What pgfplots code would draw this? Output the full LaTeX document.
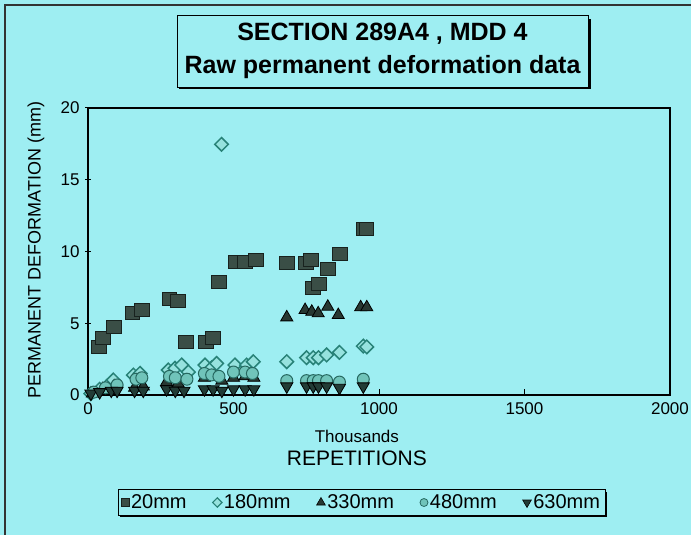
\documentclass[border=0pt]{standalone}
\usepackage{pgfplots}
\pgfplotsset{compat=1.18}
\usepackage{fontspec}
\setmainfont{Liberation Sans}
\usetikzlibrary{shadows}
\definecolor{bg}{RGB}{158,238,242}
\definecolor{sqfill}{RGB}{58,78,70}
\definecolor{sqdraw}{RGB}{24,34,30}
\definecolor{dmdraw}{RGB}{40,130,120}
\definecolor{dmfill}{RGB}{150,226,222}
\definecolor{trfill}{RGB}{40,56,50}
\definecolor{cifill}{RGB}{112,196,186}
\definecolor{cidraw}{RGB}{38,104,96}
\definecolor{itfill}{RGB}{34,60,54}
\begin{document}
\begin{tikzpicture}[x=1pt,y=1pt]
\fill[bg] (0,0) rectangle (691,535);
\useasboundingbox (0,0) rectangle (691,535);
\draw[line width=1.2pt,black!80] (5,0) -- (5,530) -- (691,530);
% title box
\fill[black] (179,446) rectangle (591,516);
\node[draw=black, line width=0.8pt, fill=bg, minimum width=411pt, minimum height=72pt, inner sep=0pt, align=center, font=\fontsize{25}{33}\selectfont\bfseries] at (382.5,484) {SECTION 289A4 , MDD 4\\Raw permanent deformation data};
\begin{axis}[
  at={(88pt,140pt)}, anchor=south west,
  width=582pt, height=287pt, scale only axis,
  xmin=0, xmax=2000, ymin=0, ymax=20,
  xtick={0,500,1000,1500,2000}, ytick={0,5,10,15,20},
  axis line style={line width=1.3pt},
  axis background/.style={fill=bg},
  tick style={black, line width=1pt},
  xtick align=inside, ytick align=center,
  major tick length=6pt,
  xtick pos=bottom, ytick pos=left,
  tick label style={font=\fontsize{17}{17}\selectfont},
  /pgf/number format/assume math mode=true,
  /pgf/number format/1000 sep={},
  xticklabel style={yshift=-4pt},
  yticklabel style={xshift=-2pt},
  ylabel={PERMANENT DEFORMATION (mm)},
  ylabel style={font=\fontsize{18}{18}\selectfont, at={(axis description cs:-0.0893,0.505)}, anchor=center},
  clip=false,
  legend columns=5,
  legend style={at={(axis description cs:0.47,-0.3746)}, anchor=center, draw=black, line width=0.8pt, fill=bg,
    font=\fontsize{20}{20}\selectfont,
    drop shadow={shadow xshift=2pt, shadow yshift=-2pt, fill=black, opacity=1},
    /tikz/every even column/.append style={column sep=24pt},
    inner sep=3pt},
  legend cell align=left,
]
% 20mm squares
\addplot[forget plot, only marks, mark=square*, mark size=6.5pt, mark options={fill=sqfill, draw=sqdraw, line width=1pt, xscale=1.15}] coordinates {
(39,3.37) (53,4.0) (90,4.76) (153,5.7) (184,5.9) (280,6.67) (310,6.55) (337,3.67) (404,3.67) (428,4.0) (449,7.9) (507,9.29) (539,9.29) (576,9.38) (683,9.17) (748,9.17) (765,9.4) (774,7.43) (794,7.73) (826,8.78) (867,9.83) (947,11.6) (957,11.55)
};
% 180mm diamonds
\addplot[forget plot, only marks, mark=square*, mark size=4.8pt, mark options={rotate=45, fill=dmfill, draw=dmdraw, line width=1.5pt}] coordinates {
(10,0.1) (40,0.4) (65,0.6) (87,1.05) (156,1.39) (179,1.51) (276,1.74) (299,1.86) (322,2.09) (345,1.6) (402,2.09) (425,1.9) (442,2.2) (459,17.47) (505,2.09) (545,2.09) (568,2.32) (683,2.32) (751,2.6) (774,2.6) (792,2.6) (820,2.79) (864,2.97) (946,3.41) (958,3.35)
};
% 330mm triangles
\addplot[forget plot, only marks, mark=triangle*, mark size=7pt, mark options={fill=trfill, draw=black, line width=0.8pt}] coordinates {
(15,0.1) (50,0.4) (90,0.6) (160,0.5) (190,0.6) (270,0.9) (310,0.8) (400,1.2) (430,1.3) (460,1.0) (500,1.2) (540,1.3) (570,1.2)
(683,5.41) (746,5.92) (769,5.8) (791,5.69) (824,6.15) (860,5.57) (937,6.11) (958,6.11)
};
% 480mm circles
\addplot[forget plot, only marks, mark=*, mark size=6pt, mark options={fill=cifill, draw=cidraw, line width=1pt}] coordinates {
(20,0.2) (60,0.5) (100,0.7) (165,1.1) (185,1.2) (280,1.3) (300,1.2) (340,1.1) (400,1.5) (425,1.4) (450,1.3) (500,1.6) (540,1.6) (565,1.5) (683,1.0) (751,1.0) (774,1.0) (792,1.0) (820,1.0) (864,0.9) (946,1.1)
};
% 630mm inverted triangles
\addplot[forget plot, only marks, mark=triangle*, mark size=7pt, mark options={rotate=180, fill=itfill, draw=black, line width=0.8pt}] coordinates {
(10,0.1) (40,0.2) (80,0.3) (100,0.3) (160,0.3) (190,0.3) (270,0.4) (300,0.3) (330,0.3) (400,0.4) (430,0.4) (460,0.3) (500,0.4) (540,0.4) (570,0.4) (683,0.6) (751,0.6) (774,0.6) (792,0.6) (820,0.6) (864,0.5) (946,0.6)
};
\addlegendimage{only marks, mark=square*, mark size=4pt, mark options={fill=sqfill, draw=sqdraw, line width=0.8pt}}
\addlegendentry{20mm}
\addlegendimage{only marks, mark=square*, mark size=3.3pt, mark options={rotate=45, fill=dmfill, draw=dmdraw, line width=1.2pt}}
\addlegendentry{180mm}
\addlegendimage{only marks, mark=triangle*, mark size=5pt, mark options={fill=trfill, draw=black, line width=0.6pt}}
\addlegendentry{330mm}
\addlegendimage{only marks, mark=*, mark size=4pt, mark options={fill=cifill, draw=cidraw, line width=0.8pt}}
\addlegendentry{480mm}
\addlegendimage{only marks, mark=triangle*, mark size=5pt, mark options={rotate=180, fill=itfill, draw=black, line width=0.6pt}}
\addlegendentry{630mm}
\node[font=\fontsize{17}{17}\selectfont] at (axis description cs:0.462,-0.146) {Thousands};
\node[font=\fontsize{21}{21}\selectfont] at (axis description cs:0.462,-0.2195) {REPETITIONS};
\end{axis}
\end{tikzpicture}
\end{document}
